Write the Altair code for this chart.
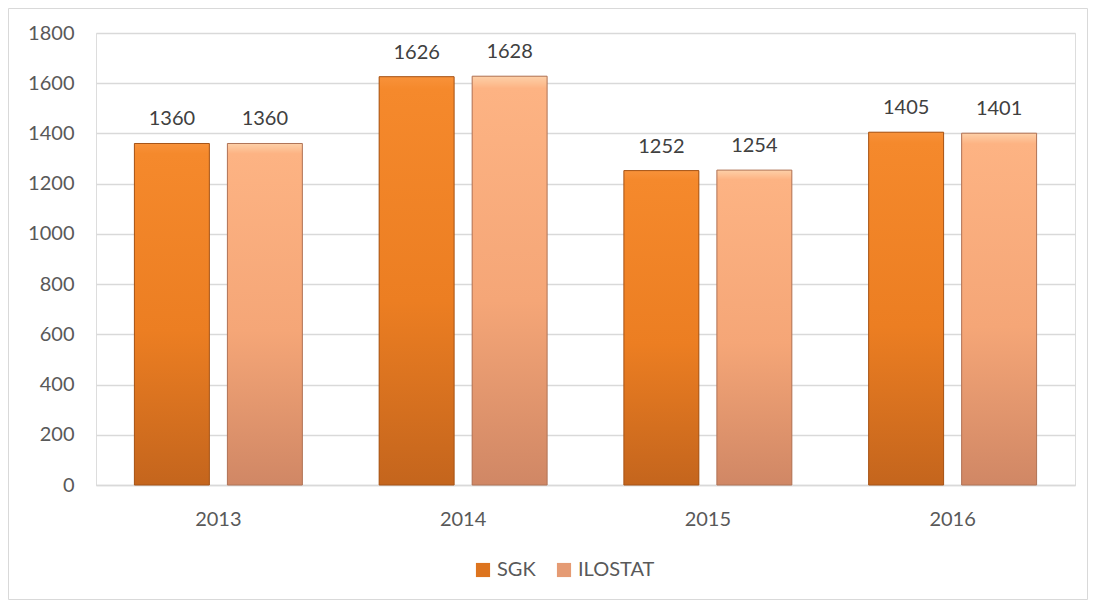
import altair as alt
import pandas as pd

years = ["2013", "2014", "2015", "2016"]
sgk = [1360, 1626, 1252, 1405]
ilostat = [1360, 1628, 1254, 1401]
series = ["SGK", "ILOSTAT"]
y_ticks = [0, 200, 400, 600, 800, 1000, 1200, 1400, 1600, 1800]

rows = []
for i, y in enumerate(years):
    rows.append({"year": y, "series": "SGK", "value": sgk[i]})
    rows.append({"year": y, "series": "ILOSTAT", "value": ilostat[i]})
df = pd.DataFrame(rows)

W, H = 979, 452
PL, PT, PR, PB = 88, 25, 13, 115
FONT = "Lato"

grad_sgk = alt.LinearGradient(
    gradient="linear", x1=0, y1=0, x2=0, y2=1,
    stops=[alt.GradientStop(offset=0, color="#F8923A"),
           alt.GradientStop(offset=0.03, color="#F5892C"),
           alt.GradientStop(offset=0.55, color="#EC7E22"),
           alt.GradientStop(offset=1, color="#C4651D")])
grad_ilo = alt.LinearGradient(
    gradient="linear", x1=0, y1=0, x2=0, y2=1,
    stops=[alt.GradientStop(offset=0, color="#FDD0A8"),
           alt.GradientStop(offset=0.03, color="#FDB383"),
           alt.GradientStop(offset=0.55, color="#F5A677"),
           alt.GradientStop(offset=1, color="#D08765")])

x_enc = alt.X("year:N", title=None, sort=years,
              scale=alt.Scale(paddingInner=0, paddingOuter=0),
              axis=alt.Axis(labelAngle=0, ticks=False, domainColor="#d9d9d9",
                            domainWidth=1.5, labelPadding=24, labelFontSize=20,
                            labelColor="#595959", labelFont=FONT, grid=False))
xoff = alt.XOffset("series:N", sort=series,
                   scale=alt.Scale(paddingInner=0.194, paddingOuter=0.413))
y_enc = alt.Y("value:Q", title=None,
              scale=alt.Scale(domain=[0, 1800]),
              axis=alt.Axis(values=y_ticks, format="d", domain=False, ticks=False,
                            labelPadding=22, labelFontSize=20, labelColor="#595959",
                            labelFont=FONT, gridColor="#d9d9d9", gridWidth=1.5))

base = alt.Chart(df)

legend_bars = base.mark_bar().encode(
    x=x_enc, xOffset=xoff, y=y_enc,
    color=alt.Color("series:N", sort=series,
                    scale=alt.Scale(domain=series, range=["#DD741E", "#E59B74"]),
                    legend=alt.Legend(title=None, orient="none", direction="horizontal",
                                      legendX=377, legendY=527, symbolType="square",
                                      symbolSize=200, symbolStrokeWidth=0,
                                      labelFontSize=20, labelFont=FONT,
                                      labelColor="#595959", labelOffset=4,
                                      columnPadding=18)),
)

grad_bars = base.mark_bar(strokeWidth=1).encode(
    x=x_enc, xOffset=xoff, y=y_enc,
    fill=alt.condition(alt.datum.series == "SGK", alt.value(grad_sgk), alt.value(grad_ilo)),
    stroke=alt.condition(alt.datum.series == "SGK", alt.value("#A65418"), alt.value("#B07458")),
)

labels = base.mark_text(dy=-18, baseline="alphabetic", fontSize=20, font=FONT,
                        color="#404040").encode(
    x=x_enc, xOffset=xoff, y=y_enc, text=alt.Text("value:Q"))

border = alt.Chart(alt.Data(values=[{}])).mark_rect(
    fillOpacity=0, stroke="#d9d9d9", strokeWidth=1).encode(
    x=alt.value(-PL + 0.5), x2=alt.value(W + PR - 0.5),
    y=alt.value(-PT + 0.5), y2=alt.value(H + PB - 0.5))

chart = alt.layer(legend_bars, grad_bars, labels, border).properties(
    width=W, height=H,
    autosize=alt.AutoSizeParams(type="none"),
    padding={"left": PL, "top": PT, "right": PR, "bottom": PB},
).configure_view(stroke=None).configure(background="white")

chart.save("out.html", embed_options={"renderer": "svg", "actions": False})
